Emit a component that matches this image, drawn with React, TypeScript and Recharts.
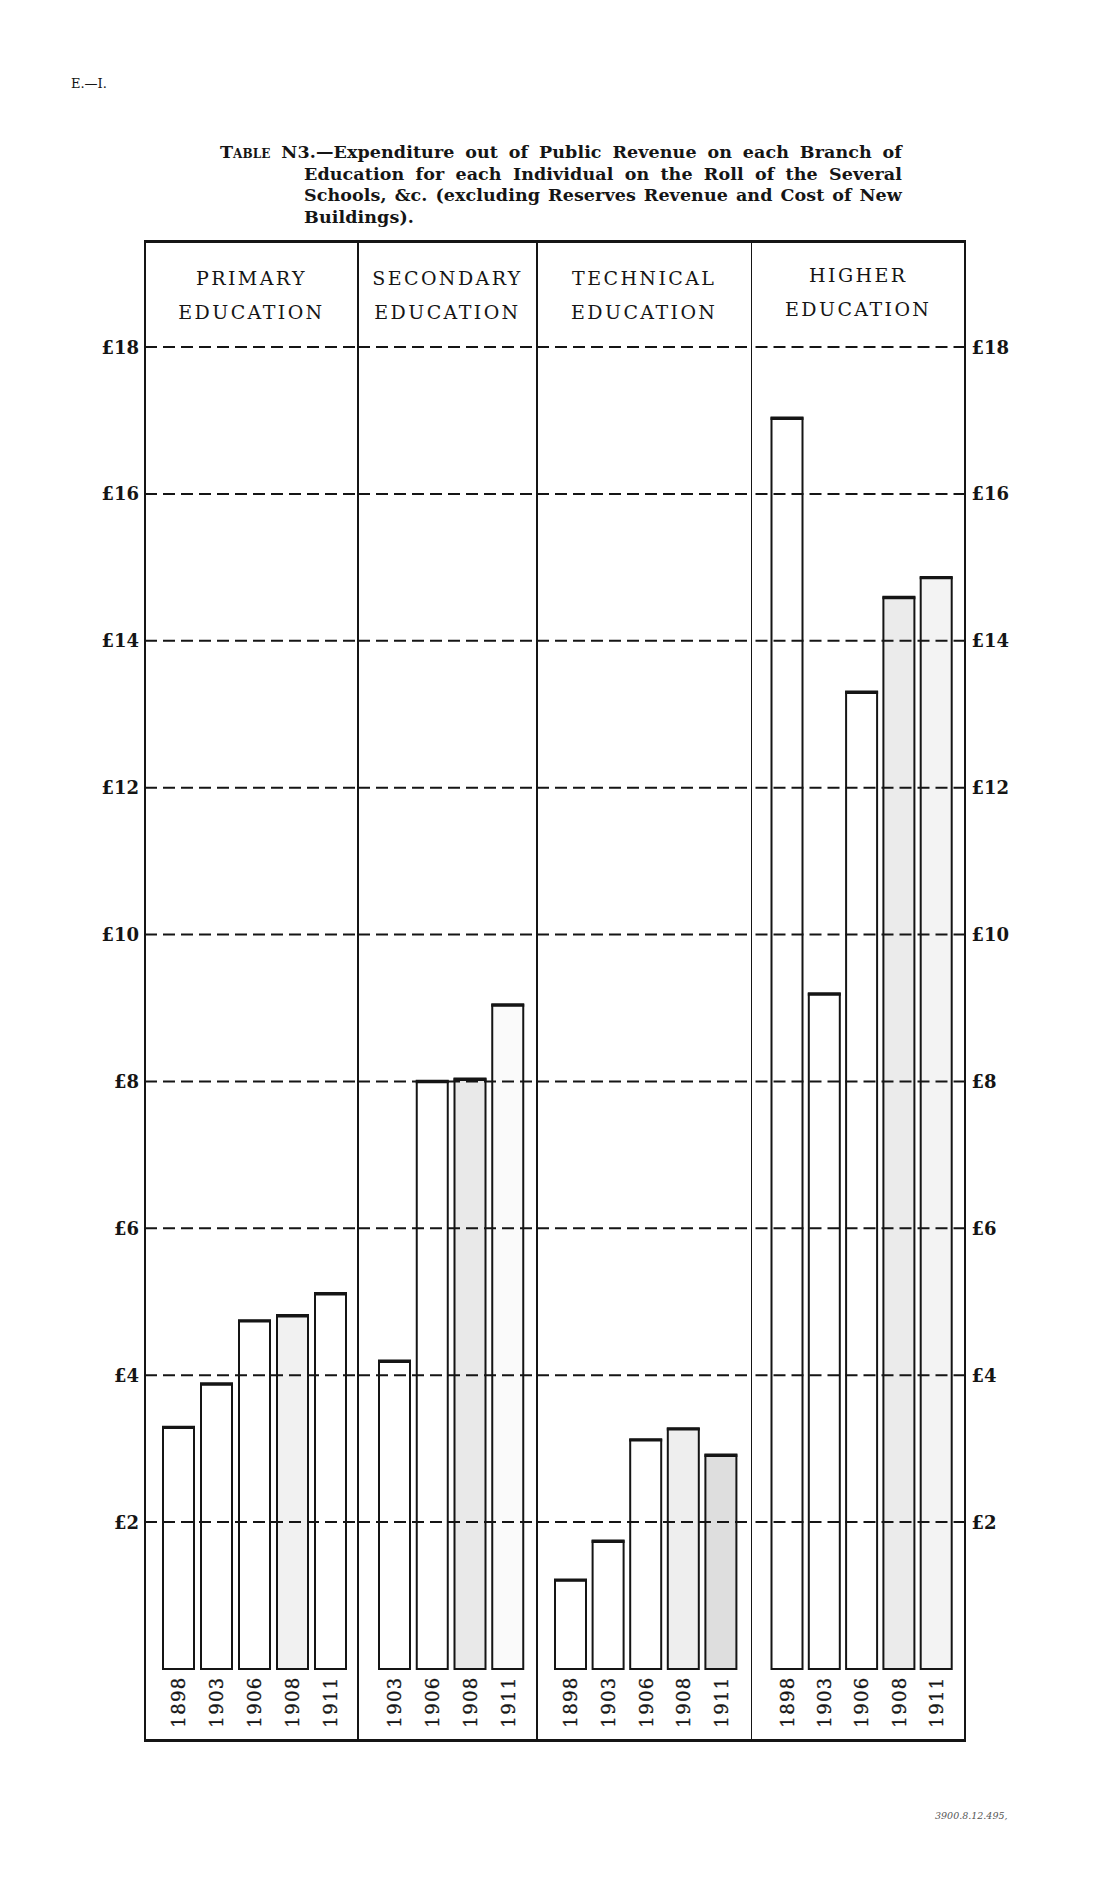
import { BarChart, Bar, Cell, XAxis, YAxis, ReferenceLine } from "recharts";

const yTicks = [2, 4, 6, 8, 10, 12, 14, 16, 18];

const primaryYears = ["1898", "1903", "1906", "1908", "1911"];
const primaryValues = [3.29, 3.88, 4.74, 4.81, 5.11];

const secondaryYears = ["1903", "1906", "1908", "1911"];
const secondaryValues = [4.19, 8.0, 8.03, 9.04];

const technicalYears = ["1898", "1903", "1906", "1908", "1911"];
const technicalValues = [1.21, 1.74, 3.12, 3.27, 2.91];

const higherYears = ["1898", "1903", "1906", "1908", "1911"];
const higherValues = [17.03, 9.19, 13.3, 14.59, 14.86];

// stippled print shading, one per bar
const primaryShade = ["#fff", "#fff", "#fff", "#f1f1f1", "#fff"];
const secondaryShade = ["#fff", "#fff", "#e9e9e9", "#fafafa"];
const technicalShade = ["#fff", "#fff", "#fff", "#eeeeee", "#dedede"];
const higherShade = ["#fff", "#fff", "#fff", "#ebebeb", "#f3f3f3"];

const INK = "#151515";
const FRAME_TOP = 242;
const FRAME_BOTTOM = 1741;
const AXIS_W = 60;

const BarShape = (props: any) => {
  const { x, y, width, height, fill } = props;
  return (
    <g>
      <rect x={x} y={y} width={width} height={height} fill={fill} stroke={INK} strokeWidth={2} />
      <line x1={x - 1} x2={x + width + 1} y1={y} y2={y} stroke={INK} strokeWidth={3.4} />
    </g>
  );
};

const YearTick = (props: any) => {
  const { x, y, payload } = props;
  return (
    <text
      transform={`translate(${x},${y + 33}) rotate(-90)`}
      textAnchor="middle"
      dominantBaseline="central"
      fontFamily="'DejaVu Serif', serif"
      fontSize={18}
      letterSpacing={1.4}
      stroke={INK}
      strokeWidth={0.35}
      fill={INK}
    >
      {payload.value}
    </text>
  );
};

const PoundTick = (props: any) => {
  const { x, y, payload, textAnchor } = props;
  return (
    <text
      x={x}
      y={y}
      textAnchor={textAnchor}
      dominantBaseline="central"
      fontFamily="'DejaVu Serif', serif"
      fontWeight={700}
      fontSize={18}
      fill={INK}
    >
      {"£" + payload.value}
    </text>
  );
};

function Panel({
  years,
  values,
  shades,
  left,
  width,
  padL,
  padR,
  axis,
}: {
  years: string[];
  values: number[];
  shades: string[];
  left: number;
  width: number;
  padL: number;
  padR: number;
  axis?: "left" | "right";
}) {
  const data = years.map((year, i) => ({ year, value: values[i] }));
  const chartLeft = axis === "left" ? left - AXIS_W : left;
  const chartWidth = axis ? width + AXIS_W : width;
  return (
    <div style={{ position: "absolute", left: chartLeft, top: FRAME_TOP }}>
      <BarChart
        width={chartWidth}
        height={FRAME_BOTTOM - FRAME_TOP}
        data={data}
        margin={{ top: 105, right: 0, bottom: 0, left: 0 }}
        barSize={31}
      >
        <XAxis
          dataKey="year"
          height={72}
          axisLine={false}
          tickLine={false}
          tickSize={0}
          tickMargin={0}
          interval={0}
          padding={{ left: padL, right: padR }}
          tick={<YearTick />}
        />
        <YAxis
          hide={!axis}
          orientation={axis ?? "left"}
          width={AXIS_W}
          domain={[0, 18]}
          ticks={yTicks}
          axisLine={false}
          tickLine={false}
          tickSize={0}
          tickMargin={6}
          tick={<PoundTick />}
        />
        <Bar dataKey="value" shape={<BarShape />} isAnimationActive={false}>
          {data.map((d, i) => (
            <Cell key={d.year} fill={shades[i]} />
          ))}
        </Bar>
        {yTicks.map((t) => (
          <ReferenceLine key={t} y={t} stroke={INK} strokeWidth={2} strokeDasharray="12 6" />
        ))}
      </BarChart>
    </div>
  );
}

const headerStyle = (left: number, width: number): React.CSSProperties => ({
  position: "absolute",
  left,
  width,
  top: 261,
  textAlign: "center",
  fontFamily: "'DejaVu Serif', serif",
  fontSize: 19,
  lineHeight: "34px",
  letterSpacing: 2.4,
  color: INK,
});

const titleLine = (left: number, width: number, top: number, justify: boolean): React.CSSProperties => ({
  position: "absolute",
  left,
  width,
  top,
  fontFamily: "'DejaVu Serif', serif",
  fontWeight: 700,
  fontSize: 17.5,
  letterSpacing: 0.1,
  lineHeight: "21.7px",
  whiteSpace: "nowrap",
  textAlign: justify ? "justify" : "left",
  textAlignLast: justify ? "justify" : "left",
  color: INK,
});

export default function App() {
  const x0 = 145;
  const x1 = 358;
  const x2 = 537;
  const x3 = 751.5;
  const x4 = 965;
  return (
    <div
      style={{
        position: "absolute",
        left: 0,
        top: 0,
        width: 1114,
        height: 1883,
        background: "#fff",
        color: INK,
      }}
    >
      <div style={{ position: "absolute", left: 71, top: 76, fontFamily: "'DejaVu Serif', serif", fontSize: 13 }}>
        E.—I.
      </div>

      <div style={titleLine(220, 682, 142, true)}>
        <span style={{ fontVariant: "small-caps" }}>Table</span> N3.—Expenditure out of Public Revenue on each Branch of
      </div>
      <div style={titleLine(304, 598, 163.7, true)}>
        Education for each Individual on the Roll of the Several
      </div>
      <div style={titleLine(304, 598, 185.4, true)}>
        Schools, &amp;c. (excluding Reserves Revenue and Cost of New
      </div>
      <div style={titleLine(304, 598, 207.1, false)}>Buildings).</div>

      {/* frame */}
      <div
        style={{
          position: "absolute",
          left: x0 - 1,
          top: FRAME_TOP - 2,
          width: x4 - x0 + 2,
          height: FRAME_BOTTOM - FRAME_TOP + 3,
          boxSizing: "border-box",
          borderTop: `3px solid ${INK}`,
          borderBottom: `3px solid ${INK}`,
          borderLeft: `2px solid ${INK}`,
          borderRight: `2px solid ${INK}`,
        }}
      />
      {[x1, x2, x3].map((x) => (
        <div
          key={x}
          style={{
            position: "absolute",
            left: x - 0.75,
            top: FRAME_TOP,
            width: 1.5,
            height: FRAME_BOTTOM - FRAME_TOP,
            background: INK,
          }}
        />
      ))}

      <div style={headerStyle(x0, x1 - x0)}>
        PRIMARY
        <br />
        EDUCATION
      </div>
      <div style={headerStyle(x1, x2 - x1)}>
        SECONDARY
        <br />
        EDUCATION
      </div>
      <div style={headerStyle(x2, x3 - x2)}>
        TECHNICAL
        <br />
        EDUCATION
      </div>
      <div style={{ ...headerStyle(x3, x4 - x3), top: 258 }}>
        HIGHER
        <br />
        EDUCATION
      </div>

      <Panel years={primaryYears} values={primaryValues} shades={primaryShade} left={x0} width={x1 - x0} padL={14} padR={9} axis="left" />
      <Panel years={secondaryYears} values={secondaryValues} shades={secondaryShade} left={x1} width={x2 - x1} padL={18} padR={10} />
      <Panel years={technicalYears} values={technicalValues} shades={technicalShade} left={x2} width={x3 - x2} padL={15} padR={11.5} />
      <Panel years={higherYears} values={higherValues} shades={higherShade} left={x3} width={x4 - x3} padL={16.5} padR={10.5} axis="right" />

      <div
        style={{
          position: "absolute",
          left: 935,
          top: 1810,
          fontFamily: "'DejaVu Serif', serif",
          fontStyle: "italic",
          fontSize: 9.5,
          color: "#555",
        }}
      >
        3900.8.12.495,
      </div>
    </div>
  );
}
